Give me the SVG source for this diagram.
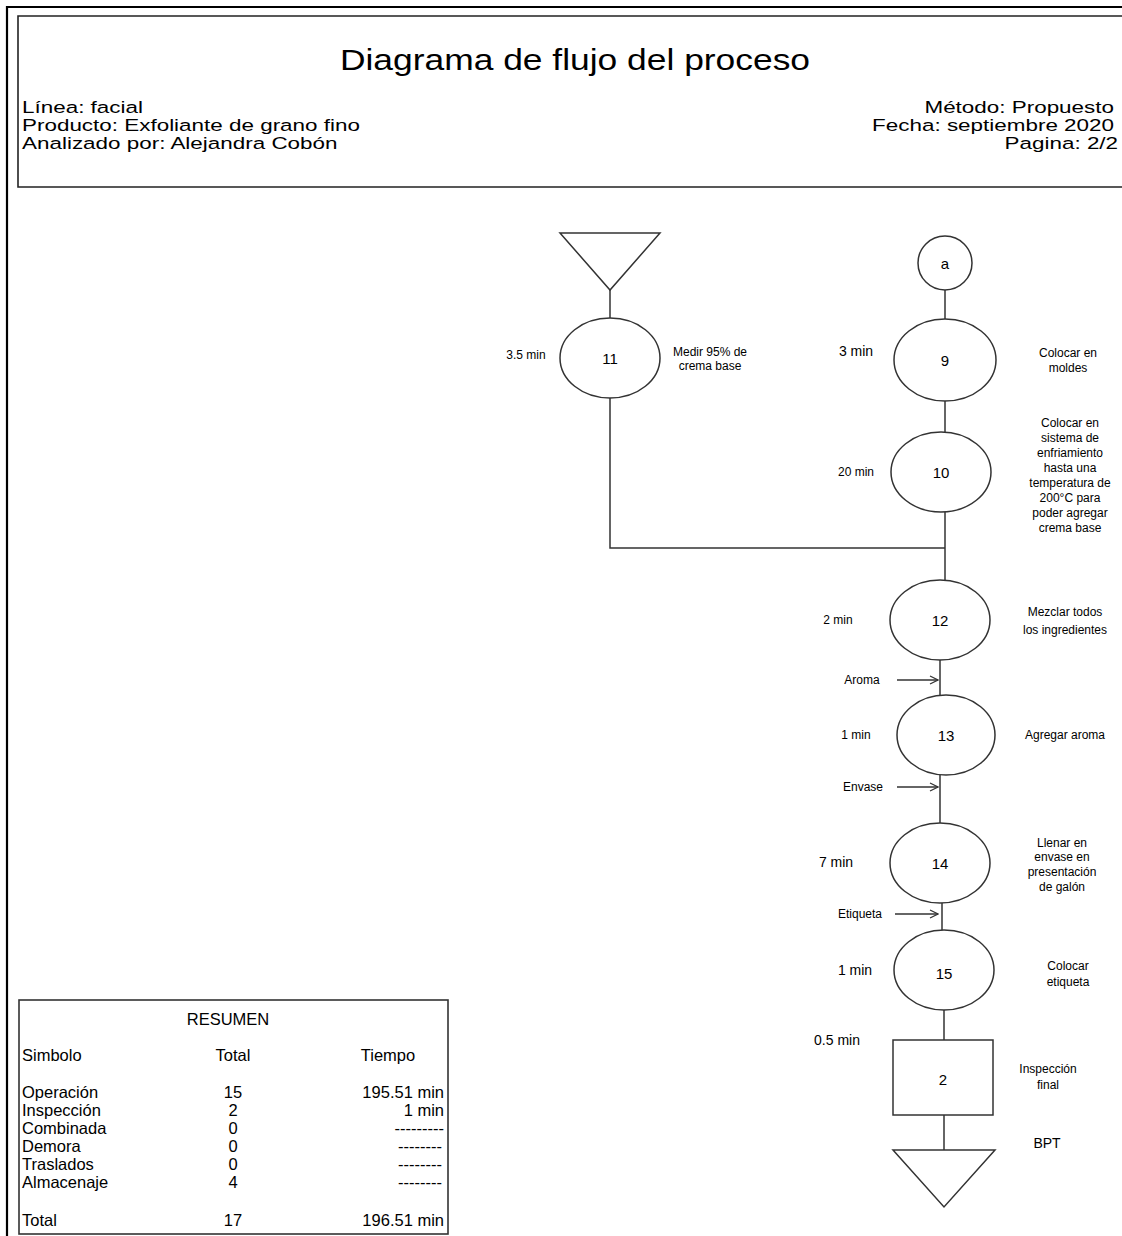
<svg xmlns="http://www.w3.org/2000/svg" width="1122" height="1236" viewBox="0 0 1122 1236">
  <style>
    text { font-family: "Liberation Sans", Arial, sans-serif; fill: #000; }
    .shape { fill: #fff; stroke: #333; stroke-width: 1.5; }
    .line { fill: none; stroke: #333; stroke-width: 1.5; }
    .num { font-size: 15px; text-anchor: middle; dominant-baseline: central; }
    .lbl { font-size: 12px; text-anchor: middle; }
    .time { font-size: 12px; text-anchor: middle; }
    .timeL { font-size: 14px; text-anchor: middle; }
    .hdr { font-size: 16.5px; }
    .tbl { font-size: 16.5px; }
  </style>
  <defs>
    <marker id="arr" markerWidth="10" markerHeight="10" refX="9" refY="5" orient="auto" markerUnits="userSpaceOnUse">
      <path d="M1,1 L9,5 L1,9" fill="none" stroke="#333" stroke-width="1.2"/>
    </marker>
  </defs>

  <rect width="1122" height="1236" fill="#fff"/>

  <!-- page frame -->
  <path d="M7,1236 V7 H1122" fill="none" stroke="#000" stroke-width="2.2"/>

  <!-- header -->
  <g id="header">
    <path d="M1122,16 H18 V187 H1122" fill="none" stroke="#222" stroke-width="1.6"/>
    <g transform="translate(575,70) scale(1.18,1)">
      <text x="0" y="0" font-size="30" text-anchor="middle">Diagrama de flujo del proceso</text>
    </g>
    <g transform="translate(22,0) scale(1.36,1)">
      <text class="hdr" x="0" y="113">Línea: facial</text>
      <text class="hdr" x="0" y="131">Producto: Exfoliante de grano fino</text>
      <text class="hdr" x="0" y="149">Analizado por: Alejandra Cobón</text>
    </g>
    <g transform="translate(1114,0) scale(1.36,1)">
      <text class="hdr" x="0" y="113" text-anchor="end">Método: Propuesto</text>
      <text class="hdr" x="0" y="131" text-anchor="end">Fecha: septiembre 2020</text>
      <text class="hdr" x="3" y="149" text-anchor="end">Pagina: 2/2</text>
    </g>
  </g>

  <!-- connectors -->
  <g id="connectors">
    <line class="line" x1="610" y1="290" x2="610" y2="318"/>
    <polyline class="line" points="610,398 610,548 945,548"/>
    <line class="line" x1="945" y1="290" x2="945" y2="319"/>
    <line class="line" x1="945" y1="401" x2="945" y2="432"/>
    <line class="line" x1="945" y1="512" x2="945" y2="580"/>
    <line class="line" x1="940" y1="660" x2="940" y2="695"/>
    <line class="line" x1="940" y1="775" x2="940" y2="823"/>
    <line class="line" x1="942" y1="903" x2="942" y2="930"/>
    <line class="line" x1="944" y1="1010" x2="944" y2="1040"/>
    <line class="line" x1="944" y1="1115" x2="944" y2="1150"/>
    <line class="line" x1="897" y1="680" x2="938" y2="680" marker-end="url(#arr)"/>
    <line class="line" x1="897" y1="787" x2="938" y2="787" marker-end="url(#arr)"/>
    <line class="line" x1="895" y1="914" x2="938" y2="914" marker-end="url(#arr)"/>
    <text class="lbl" x="862" y="684">Aroma</text>
    <text class="lbl" x="863" y="791">Envase</text>
    <text class="lbl" x="860" y="918">Etiqueta</text>
  </g>

  <!-- storage: raw cream -->
  <g id="storage-top">
    <polygon class="shape" points="560,233 660,233 610,290"/>
  </g>

  <!-- operation 11 -->
  <g id="op11">
    <ellipse class="shape" cx="610" cy="358" rx="50" ry="40"/>
    <text class="num" x="610" y="358">11</text>
    <text class="time" x="526" y="359">3.5 min</text>
    <text class="lbl" x="710" y="356">Medir 95% de</text>
    <text class="lbl" x="710" y="370">crema base</text>
  </g>

  <!-- connector a -->
  <g id="conn-a">
    <circle class="shape" cx="945" cy="263" r="27"/>
    <text class="num" x="945" y="263">a</text>
  </g>

  <!-- operation 9 -->
  <g id="op9">
    <ellipse class="shape" cx="945" cy="360" rx="51" ry="41"/>
    <text class="num" x="945" y="360">9</text>
    <text class="timeL" x="856" y="356">3 min</text>
    <text class="lbl" x="1068" y="357">Colocar en</text>
    <text class="lbl" x="1068" y="372">moldes</text>
  </g>

  <!-- operation 10 -->
  <g id="op10">
    <ellipse class="shape" cx="941" cy="472" rx="50" ry="40"/>
    <text class="num" x="941" y="472">10</text>
    <text class="time" x="856" y="476">20 min</text>
    <text class="lbl" x="1070" y="427">Colocar en</text>
    <text class="lbl" x="1070" y="442">sistema de</text>
    <text class="lbl" x="1070" y="457">enfriamiento</text>
    <text class="lbl" x="1070" y="472">hasta una</text>
    <text class="lbl" x="1070" y="487">temperatura de</text>
    <text class="lbl" x="1070" y="502">200°C para</text>
    <text class="lbl" x="1070" y="517">poder agregar</text>
    <text class="lbl" x="1070" y="532">crema base</text>
  </g>

  <!-- operation 12 -->
  <g id="op12">
    <ellipse class="shape" cx="940" cy="620" rx="50" ry="40"/>
    <text class="num" x="940" y="620">12</text>
    <text class="time" x="838" y="624">2 min</text>
    <text class="lbl" x="1065" y="616">Mezclar todos</text>
    <text class="lbl" x="1065" y="634">los ingredientes</text>
  </g>

  <!-- operation 13 -->
  <g id="op13">
    <ellipse class="shape" cx="946" cy="735" rx="49" ry="40"/>
    <text class="num" x="946" y="735">13</text>
    <text class="time" x="856" y="739">1 min</text>
    <text class="lbl" x="1065" y="739">Agregar aroma</text>
  </g>

  <!-- operation 14 -->
  <g id="op14">
    <ellipse class="shape" cx="940" cy="863" rx="50" ry="40"/>
    <text class="num" x="940" y="863">14</text>
    <text class="timeL" x="836" y="867">7 min</text>
    <text class="lbl" x="1062" y="847">Llenar en</text>
    <text class="lbl" x="1062" y="861">envase en</text>
    <text class="lbl" x="1062" y="876">presentación</text>
    <text class="lbl" x="1062" y="891">de galón</text>
  </g>

  <!-- operation 15 -->
  <g id="op15">
    <ellipse class="shape" cx="944" cy="970" rx="50" ry="40"/>
    <text class="num" x="944" y="973">15</text>
    <text class="timeL" x="855" y="975">1 min</text>
    <text class="lbl" x="1068" y="970">Colocar</text>
    <text class="lbl" x="1068" y="986">etiqueta</text>
  </g>

  <!-- inspection 2 -->
  <g id="insp2">
    <rect class="shape" x="893" y="1040" width="100" height="75"/>
    <text class="num" x="943" y="1079">2</text>
    <text class="timeL" x="837" y="1045">0.5 min</text>
    <text class="lbl" x="1048" y="1073">Inspección</text>
    <text class="lbl" x="1048" y="1089">final</text>
  </g>

  <!-- storage: finished product -->
  <g id="storage-bpt">
    <polygon class="shape" points="893,1150 995,1150 944,1207"/>
    <text x="1047" y="1148" font-size="14" text-anchor="middle">BPT</text>
  </g>

  <!-- summary table -->
  <g id="summary">
    <rect x="19" y="1000" width="429" height="234" fill="#fff" stroke="#333" stroke-width="1.6"/>
    <text class="tbl" x="228" y="1025" text-anchor="middle">RESUMEN</text>
    <text class="tbl" x="22" y="1061">Simbolo</text>
    <text class="tbl" x="233" y="1061" text-anchor="middle">Total</text>
    <text class="tbl" x="388" y="1061" text-anchor="middle">Tiempo</text>

    <text class="tbl" x="22" y="1098">Operación</text>
    <text class="tbl" x="22" y="1116">Inspección</text>
    <text class="tbl" x="22" y="1134">Combinada</text>
    <text class="tbl" x="22" y="1152">Demora</text>
    <text class="tbl" x="22" y="1170">Traslados</text>
    <text class="tbl" x="22" y="1188">Almacenaje</text>
    <text class="tbl" x="22" y="1226">Total</text>

    <text class="tbl" x="233" y="1098" text-anchor="middle">15</text>
    <text class="tbl" x="233" y="1116" text-anchor="middle">2</text>
    <text class="tbl" x="233" y="1134" text-anchor="middle">0</text>
    <text class="tbl" x="233" y="1152" text-anchor="middle">0</text>
    <text class="tbl" x="233" y="1170" text-anchor="middle">0</text>
    <text class="tbl" x="233" y="1188" text-anchor="middle">4</text>
    <text class="tbl" x="233" y="1226" text-anchor="middle">17</text>

    <text class="tbl" x="444" y="1098" text-anchor="end">195.51 min</text>
    <text class="tbl" x="444" y="1116" text-anchor="end">1 min</text>
    <text class="tbl" x="444" y="1134" text-anchor="end">---------</text>
    <text class="tbl" x="442" y="1152" text-anchor="end">--------</text>
    <text class="tbl" x="442" y="1170" text-anchor="end">--------</text>
    <text class="tbl" x="442" y="1188" text-anchor="end">--------</text>
    <text class="tbl" x="444" y="1226" text-anchor="end">196.51 min</text>
  </g>
</svg>
